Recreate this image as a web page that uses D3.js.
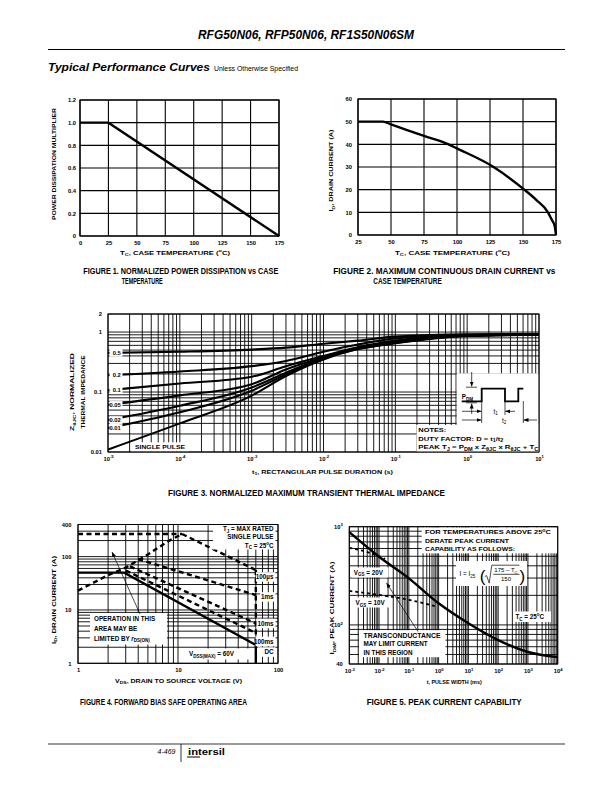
<!DOCTYPE html>
<html><head><meta charset="utf-8">
<script src="https://cdn.jsdelivr.net/npm/d3@7/dist/d3.min.js"></script>
<style>html,body{margin:0;padding:0;background:#fff;}svg{display:block;}</style>
</head><body>
<svg id="page" width="612" height="792" xmlns="http://www.w3.org/2000/svg"></svg>
<script>
// ================= DATA =================
// Figure 1
const fig1Temp = [0, 25, 175];
const fig1Mult = [1.0, 1.0, 0.0];
const fig1XTicks = [0, 25, 50, 75, 100, 125, 150, 175];
const fig1YTicks = [0, 0.2, 0.4, 0.6, 0.8, 1.0, 1.2];
// Figure 2
const fig2Temp = [25, 44, 50, 75, 93.6, 100, 127.7, 151, 160, 168.9, 172, 174, 175];
const fig2Current = [50, 50, 48.8, 43.7, 40, 38.2, 30, 20, 15.5, 10, 6.5, 4, 0];
const fig2XTicks = [25, 50, 75, 100, 125, 150, 175];
const fig2YTicks = [0, 10, 20, 30, 40, 50, 60];
// Figure 3
const fig3Time = [1e-5, 1e-4, 1e-3, 3e-3, 1e-2, 3e-2, 1e-1, 1, 10];
const fig3D05 = [0.45, 0.47, 0.51, 0.55, 0.64, 0.72, 0.84, 0.92, 0.93];
const fig3D02 = [0.19, 0.22, 0.27, 0.33, 0.47, 0.62, 0.78, 0.90, 0.92];
const fig3D01 = [0.107, 0.139, 0.18, 0.27, 0.40, 0.56, 0.72, 0.89, 0.92];
const fig3D005 = [0.061, 0.088, 0.135, 0.238, 0.38, 0.54, 0.69, 0.88, 0.91];
const fig3D002 = [0.034, 0.059, 0.119, 0.21, 0.37, 0.53, 0.67, 0.87, 0.91];
const fig3D001 = [0.025, 0.046, 0.105, 0.196, 0.36, 0.52, 0.66, 0.87, 0.90];
const fig3Single = [0.011, 0.030, 0.087, 0.185, 0.35, 0.52, 0.65, 0.86, 0.90];
const fig3DutyLabels = ["0.5", "0.2", "0.1", "0.05", "0.02", "0.01"];
const fig3XTickExp = [-5, -4, -3, -2, -1, 0, 1];
const fig3YTicks = [0.01, 0.1, 1, 2];
const fig3YTickLabels = ["0.01", "0.1", "1", "2"];
// Figure 4
const fig4RdsV = [1, 2, 3, 5, 8, 11];
const fig4RdsI = [23, 45, 62, 110, 195, 265];
const fig4IdmV = [1, 11];
const fig4IdmI = [265, 265];
const fig4Us100V = [11, 60];
const fig4Us100I = [265, 56];
const fig4Ms1V = [4, 60];
const fig4Ms1I = [90, 19];
const fig4Ms10V = [3.3, 60];
const fig4Ms10I = [66, 5.6];
const fig4Ms100V = [3.0, 60];
const fig4Ms100I = [55, 3.7];
const fig4DcV = [1, 2.9, 60, 60];
const fig4DcI = [50, 50, 2.2, 1];
const fig4VmaxV = [60, 60];
const fig4VmaxI = [56, 2.2];
const fig4XTicks = [1, 10, 100];
const fig4YTicks = [1, 10, 100, 400];
// Figure 5
const fig5Time = [1e-3, 1e-2, 1e-1, 1, 10, 100, 1e3, 1e4];
const fig5Current = [880, 495, 298, 166, 104, 70, 53, 47];
const fig5Vgs20Time = [1e-3, 5e-3, 1.6e-2];
const fig5Vgs20Current = [610, 540, 470];
const fig5Vgs10Time = [1e-3, 1e-2, 1e-1, 0.8];
const fig5Vgs10Current = [222, 202, 180, 155];
const fig5XTickExp = [-3, -2, -1, 0, 1, 2, 3, 4];
const fig5YTicks = [40, 100, 1000];

// ================= HELPERS =================
const FONT = '"Liberation Sans", Arial, Helvetica, sans-serif';
const svg = d3.select('#page');
svg.append('rect').attr('width', 612).attr('height', 792).attr('fill', '#fff');
const defs = svg.append('defs');
defs.append('marker').attr('id', 'arr').attr('viewBox', '0 0 10 10')
  .attr('refX', 10).attr('refY', 5).attr('markerWidth', 5).attr('markerHeight', 5)
  .attr('markerUnits', 'userSpaceOnUse').attr('orient', 'auto')
  .append('path').attr('d', 'M0,1 L10,5 L0,9 z').attr('fill', '#000');

function label(g, x, y, parts, o = {}) {
  const size = o.size || 6, anchor = o.anchor || 'start';
  const t = g.append('text').attr('x', x).attr('y', y)
    .attr('font-family', FONT).attr('font-size', size)
    .attr('font-weight', o.weight || 'bold').attr('font-style', o.style || 'normal')
    .attr('text-anchor', anchor).attr('fill', '#000');
  if (o.rotate) t.attr('transform', `rotate(${o.rotate},${x},${y})`);
  if (typeof parts === 'string') parts = [[parts]];
  let shift = 0;
  parts.forEach(p => {
    const [s, k, st] = p;
    const sp = t.append('tspan').text(s);
    const target = k === 'sub' ? size * 0.3 : k === 'sup' ? -size * 0.4 : 0;
    if (target !== shift) sp.attr('dy', target - shift);
    shift = target;
    if (k === 'sub' || k === 'sup') sp.attr('font-size', size * 0.72);
    if (st) sp.attr('font-style', st);
  });
  if (o.len) t.attr('textLength', o.len).attr('lengthAdjust', 'spacingAndGlyphs');
  return t;
}
function box(g, x, y, w, h) {
  g.append('rect').attr('x', x).attr('y', y).attr('width', w).attr('height', h).attr('fill', '#fff');
}
function styleAxis(a, size) {
  a.attr('font-family', FONT).attr('font-size', size).attr('font-weight', 'bold');
  a.select('.domain').remove();
  a.selectAll('.tick line').remove();
  a.selectAll('.tick text').attr('fill', '#000');
}
function powLabels(a, size) {
  a.selectAll('.tick text').each(function (d) {
    const t = d3.select(this);
    const e = Math.round(Math.log10(d));
    t.text(null);
    t.append('tspan').text('10');
    t.append('tspan').attr('dy', -size * 0.45).attr('font-size', size * 0.72).text(e);
  });
}
function grid(g, xs, ys, xv, yv, w) {
  const [xa, xb] = xs.domain(), [ya, yb] = ys.domain();
  g.append('g').selectAll('line').data(xv).join('line')
    .attr('x1', d => xs(d)).attr('x2', d => xs(d)).attr('y1', ys(ya)).attr('y2', ys(yb))
    .attr('stroke', '#000').attr('stroke-width', w);
  g.append('g').selectAll('line').data(yv).join('line')
    .attr('y1', d => ys(d)).attr('y2', d => ys(d)).attr('x1', xs(xa)).attr('x2', xs(xb))
    .attr('stroke', '#000').attr('stroke-width', w);
}
function frame(g, xs, ys, w) {
  const [x0, x1] = xs.range(), [y0, y1] = ys.range();
  g.append('rect').attr('x', x0).attr('y', y1).attr('width', x1 - x0).attr('height', y0 - y1)
    .attr('fill', 'none').attr('stroke', '#000').attr('stroke-width', w);
}
const zip = (a, b) => a.map((v, i) => [v, b[i]]);

// ================= HEADER =================
label(svg, 198, 38.5, 'RFG50N06, RFP50N06, RF1S50N06SM', { size: 12, style: 'italic', len: 216 });
svg.append('line').attr('x1', 48).attr('x2', 565).attr('y1', 49.5).attr('y2', 49.5).attr('stroke', '#000').attr('stroke-width', 1);
label(svg, 48, 71, 'Typical Performance Curves', { size: 11.5, style: 'italic', len: 162 });
label(svg, 214, 71, 'Unless Otherwise Specified', { size: 6.5, weight: 'normal', len: 84 });

// ================= FIGURE 1 =================
{
  const g = svg.append('g');
  const x = d3.scaleLinear().domain([0, 175]).range([80, 279]);
  const y = d3.scaleLinear().domain([0, 1.2]).range([236, 100]);
  grid(g, x, y, fig1XTicks, fig1YTicks, 1.1);
  frame(g, x, y, 1.2);
  g.append('path').datum(zip(fig1Temp, fig1Mult))
    .attr('d', d3.line().x(d => x(d[0])).y(d => y(d[1])))
    .attr('fill', 'none').attr('stroke', '#000').attr('stroke-width', 2.4);
  const ax = g.append('g').attr('transform', `translate(0,${y(0)})`)
    .call(d3.axisBottom(x).tickValues(fig1XTicks).tickSize(0).tickPadding(5).tickFormat(d3.format('d')));
  styleAxis(ax, 5.8);
  const ay = g.append('g').attr('transform', `translate(${x(0)},0)`)
    .call(d3.axisLeft(y).tickValues(fig1YTicks).tickSize(0).tickPadding(4).tickFormat(d => d === 0 ? '0' : d.toFixed(1)));
  styleAxis(ay, 5.8);
  label(g, 175, 254.5, [['T'], ['C', 'sub'], [', CASE TEMPERATURE ('], ['o', 'sup'], ['C)']], { size: 6, anchor: 'middle', len: 110 });
  label(g, 55.5, 164, 'POWER DISSIPATION MULTIPLIER', { size: 6, anchor: 'middle', rotate: -90, len: 112 });
  label(g, 83.3, 273.8, 'FIGURE 1.  NORMALIZED POWER DISSIPATION vs CASE', { size: 8.2, len: 195 });
  label(g, 121.7, 284.3, 'TEMPERATURE', { size: 8.2, len: 41 });
}

// ================= FIGURE 2 =================
{
  const g = svg.append('g');
  const x = d3.scaleLinear().domain([25, 175]).range([358, 556]);
  const y = d3.scaleLinear().domain([0, 60]).range([235, 99]);
  grid(g, x, y, fig2XTicks, fig2YTicks, 1.1);
  frame(g, x, y, 1.2);
  g.append('path').datum(zip(fig2Temp, fig2Current))
    .attr('d', d3.line().x(d => x(d[0])).y(d => y(d[1])).curve(d3.curveMonotoneX))
    .attr('fill', 'none').attr('stroke', '#000').attr('stroke-width', 2.4);
  const ax = g.append('g').attr('transform', `translate(0,${y(0)})`)
    .call(d3.axisBottom(x).tickValues(fig2XTicks).tickSize(0).tickPadding(5).tickFormat(d3.format('d')));
  styleAxis(ax, 5.8);
  const ay = g.append('g').attr('transform', `translate(${x(25)},0)`)
    .call(d3.axisLeft(y).tickValues(fig2YTicks).tickSize(0).tickPadding(6).tickFormat(d3.format('d')));
  styleAxis(ay, 5.8);
  label(g, 452.5, 254.5, [['T'], ['C', 'sub'], [', CASE TEMPERATURE ('], ['o', 'sup'], ['C)']], { size: 6, anchor: 'middle', len: 115 });
  label(g, 333, 170.5, [['I'], ['D', 'sub'], [', DRAIN CURRENT (A)']], { size: 6, anchor: 'middle', rotate: -90, len: 82 });
  label(g, 333.3, 273.8, 'FIGURE 2.  MAXIMUM CONTINUOUS DRAIN CURRENT vs', { size: 8.2, len: 222 });
  label(g, 373.3, 284.3, 'CASE TEMPERATURE', { size: 8.2, len: 68.4 });
}

// ================= FIGURE 3 =================
{
  const g = svg.append('g');
  const x = d3.scaleLog().domain([1e-5, 10]).range([108, 539]);
  const y = d3.scaleLog().domain([0.01, 2]).range([452, 314]);
  grid(g, x, y, x.ticks(), y.ticks(), 0.9);
  const line = d3.line().x(d => x(d[0])).y(d => y(d[1])).curve(d3.curveMonotoneX);
  const series = [fig3D05, fig3D02, fig3D01, fig3D005, fig3D002, fig3D001, fig3Single];
  g.append('g').selectAll('path').data(series).join('path')
    .attr('d', s => line(zip(fig3Time, s)))
    .attr('fill', 'none').attr('stroke', '#000').attr('stroke-width', 2.1);
  fig3DutyLabels.forEach((lab, i) => {
    const yy = y(series[i][0]);
    box(g, 109.5, yy - 3.8, 13, 7.6);
    label(g, 120.8, yy + 2.1, lab, { size: 5.8, anchor: 'end' });
  });
  box(g, 131.7, 442.3, 56.6, 9.2);
  label(g, 135, 449.2, 'SINGLE PULSE', { size: 6.2, len: 50 });
  // pulse illustration
  box(g, 456.7, 373.3, 82, 52);
  const wave = [[461.7, 401.3], [481.7, 401.3], [481.7, 388.7], [505, 388.7], [505, 401.3], [518.3, 401.3], [518.3, 388.7], [523.3, 388.7]];
  g.append('path').attr('d', d3.line()(wave)).attr('fill', 'none').attr('stroke', '#000').attr('stroke-width', 1.8);
  const thin = (x1, y1, x2, y2, m) => {
    const l = g.append('line').attr('x1', x1).attr('y1', y1).attr('x2', x2).attr('y2', y2).attr('stroke', '#000').attr('stroke-width', 0.7);
    if (m) l.attr('marker-end', 'url(#arr)');
  };
  thin(471.7, 372, 471.7, 386.5, true);
  thin(466, 387.2, 477, 387.2);
  thin(471.7, 414, 471.7, 403.5, true);
  thin(466, 402.8, 477, 402.8);
  thin(462, 411.3, 481.5, 411.3, true);
  thin(515, 411.3, 505.2, 411.3, true);
  thin(462, 420, 481.5, 420, true);
  thin(537, 420, 523.5, 420, true);
  thin(481.7, 401, 481.7, 423);
  thin(505, 401, 505, 415);
  thin(523.3, 401, 523.3, 423);
  label(g, 461.7, 399.2, [['P'], ['DM', 'sub']], { size: 6.3 });
  label(g, 493.5, 413.5, [['t'], ['1', 'sub']], { size: 6.3, weight: 'normal' });
  label(g, 502, 422.5, [['t'], ['2', 'sub']], { size: 6.3, weight: 'normal' });
  // notes
  box(g, 416.5, 425, 122.5, 27);
  label(g, 418.3, 432, 'NOTES:', { size: 6.2, len: 28 });
  label(g, 418.3, 440.5, [['DUTY FACTOR: D = t'], ['1', 'sub'], ['/t'], ['2', 'sub']], { size: 6.2, len: 85 });
  label(g, 418.3, 449.2, [['PEAK T'], ['J', 'sub'], [' = P'], ['DM', 'sub'], [' x Z'], ['θJC', 'sub'], [' x R'], ['θJC', 'sub'], [' + T'], ['C', 'sub']], { size: 6.2, len: 120 });
  frame(g, x, y, 1);
  const ax = g.append('g').attr('transform', `translate(0,${y(0.01)})`)
    .call(d3.axisBottom(x).tickValues(fig3XTickExp.map(e => Math.pow(10, e))).tickSize(0).tickPadding(4.5));
  styleAxis(ax, 5.8);
  powLabels(ax, 5.8);
  const ay = g.append('g').attr('transform', `translate(${x(1e-5)},0)`)
    .call(d3.axisLeft(y).tickValues(fig3YTicks).tickSize(0).tickPadding(6).tickFormat((d, i) => fig3YTickLabels[i]));
  styleAxis(ay, 5.8);
  label(g, 74, 392, [['Z'], ['θJC', 'sub'], [', NORMALIZED']], { size: 6, anchor: 'middle', rotate: -90, len: 78 });
  label(g, 84.5, 392, 'THERMAL IMPEDANCE', { size: 6, anchor: 'middle', rotate: -90, len: 73 });
  label(g, 252, 473.5, [['t'], ['1', 'sub'], [', RECTANGULAR PULSE DURATION (s)']], { size: 6, len: 141 });
  label(g, 168, 496, 'FIGURE 3.  NORMALIZED MAXIMUM TRANSIENT THERMAL IMPEDANCE', { size: 8.2, len: 277 });
}

// ================= FIGURE 4 =================
{
  const g = svg.append('g');
  const x = d3.scaleLog().domain([1, 100]).range([78, 278]);
  const y = d3.scaleLog().domain([1, 400]).range([663.3, 524.5]);
  grid(g, x, y, x.ticks(), y.ticks(), 0.9);
  const line = d3.line().x(d => x(d[0])).y(d => y(d[1]));
  const dashed = (vv, ii) => g.append('path').datum(zip(vv, ii)).attr('d', line)
    .attr('fill', 'none').attr('stroke', '#000').attr('stroke-width', 2.4).attr('stroke-dasharray', '5,3.5');
  dashed(fig4IdmV, fig4IdmI);
  dashed(fig4RdsV, fig4RdsI);
  dashed(fig4Us100V, fig4Us100I);
  dashed(fig4Ms1V, fig4Ms1I);
  dashed(fig4Ms10V, fig4Ms10I);
  dashed(fig4Ms100V, fig4Ms100I);
  dashed(fig4VmaxV, fig4VmaxI);
  g.append('path').datum(zip(fig4DcV, fig4DcI)).attr('d', line)
    .attr('fill', 'none').attr('stroke', '#000').attr('stroke-width', 2.4);
  box(g, 213, 525, 62.5, 24.5);
  label(g, 273.5, 530.8, [['T'], ['J', 'sub'], [' = MAX RATED']], { size: 6.3, anchor: 'end' });
  label(g, 273.5, 539.2, 'SINGLE PULSE', { size: 6.3, anchor: 'end' });
  label(g, 273.5, 547.6, [['T'], ['C', 'sub'], [' = 25'], ['o', 'sup'], ['C']], { size: 6.3, anchor: 'end' });
  const tag = (txt, by, bx) => { box(g, bx, by - 7, 275.5 - bx, 9.5); label(g, 273.5, by, txt, { size: 6.3, anchor: 'end' }); };
  tag('100µs', 579.2, 256);
  tag('1ms', 599.2, 260);
  tag('10ms', 625.7, 256.5);
  tag('100ms', 643.7, 255.5);
  tag('DC', 654.3, 258);
  box(g, 186.5, 648.5, 64, 11);
  label(g, 189, 656.3, [['V'], ['DSS(MAX)', 'sub'], [' = 60V']], { size: 6.3 });
  box(g, 90, 613, 77, 31.5);
  label(g, 94, 621.3, 'OPERATION IN THIS', { size: 6.3 });
  label(g, 94, 630.6, 'AREA MAY BE', { size: 6.3 });
  label(g, 94, 640.5, [['LIMITED BY '], ['r', null, 'italic'], ['DS(ON)', 'sub']], { size: 6.3 });
  g.append('line').attr('x1', 140).attr('y1', 614).attr('x2', 112).attr('y2', 552)
    .attr('stroke', '#000').attr('stroke-width', 0.7).attr('marker-end', 'url(#arr)');
  frame(g, x, y, 1);
  const ax = g.append('g').attr('transform', `translate(0,${y(1)})`)
    .call(d3.axisBottom(x).tickValues(fig4XTicks).tickSize(0).tickPadding(4.5).tickFormat(d3.format('d')));
  styleAxis(ax, 5.8);
  const ay = g.append('g').attr('transform', `translate(${x(1)},0)`)
    .call(d3.axisLeft(y).tickValues(fig4YTicks).tickSize(0).tickPadding(6.5).tickFormat(d3.format('d')));
  styleAxis(ay, 5.8);
  label(g, 115, 682.5, [['V'], ['DS', 'sub'], [', DRAIN TO SOURCE VOLTAGE (V)']], { size: 6, len: 127 });
  label(g, 55.5, 600, [['I'], ['D', 'sub'], [', DRAIN CURRENT (A)']], { size: 6, anchor: 'middle', rotate: -90, len: 88 });
  label(g, 80, 704.5, 'FIGURE 4.  FORWARD BIAS SAFE OPERATING AREA', { size: 8.2, len: 167 });
}

// ================= FIGURE 5 =================
{
  const g = svg.append('g');
  const x = d3.scaleLog().domain([1e-3, 1e4]).range([349.3, 557.7]);
  const y = d3.scaleLog().domain([40, 1000]).range([664, 526.7]);
  grid(g, x, y, x.ticks(), y.ticks(), 0.9);
  const line = d3.line().x(d => x(d[0])).y(d => y(d[1])).curve(d3.curveMonotoneX);
  g.append('path').datum(zip(fig5Vgs20Time, fig5Vgs20Current)).attr('d', line)
    .attr('fill', 'none').attr('stroke', '#000').attr('stroke-width', 1.8).attr('stroke-dasharray', '3,3');
  g.append('path').datum(zip(fig5Vgs10Time, fig5Vgs10Current)).attr('d', line)
    .attr('fill', 'none').attr('stroke', '#000').attr('stroke-width', 1.8).attr('stroke-dasharray', '3,3');
  g.append('path').datum(zip(fig5Time, fig5Current)).attr('d', line)
    .attr('fill', 'none').attr('stroke', '#000').attr('stroke-width', 2.4);
  box(g, 421.7, 527.4, 135.5, 26);
  label(g, 425, 534, [['FOR TEMPERATURES ABOVE 25'], ['o', 'sup'], ['C']], { size: 6.2, len: 126 });
  label(g, 425, 542.9, 'DERATE PEAK CURRENT', { size: 6.2, len: 84 });
  label(g, 425, 551.2, 'CAPABILITY AS FOLLOWS:', { size: 6.2, len: 90 });
  box(g, 456, 561, 71, 25);
  label(g, 459.5, 575.8, [['I = I'], ['25', 'sub']], { size: 6.3, weight: 'normal' });
  label(g, 479.8, 581.5, '(', { size: 17, weight: 'normal' });
  label(g, 519.5, 581.5, ')', { size: 17, weight: 'normal' });
  g.append('path').attr('d', 'M484.8,576.5 L486.6,575.6 L489.2,583 L491.8,565.2 L519.5,565.2')
    .attr('fill', 'none').attr('stroke', '#000').attr('stroke-width', 0.7);
  label(g, 506, 571.8, [['175 – T'], ['C', 'sub']], { size: 6, anchor: 'middle', weight: 'normal' });
  g.append('line').attr('x1', 493.2).attr('x2', 519.5).attr('y1', 574.3).attr('y2', 574.3).attr('stroke', '#000').attr('stroke-width', 0.7);
  label(g, 506, 581.3, '150', { size: 6, anchor: 'middle', weight: 'normal' });
  box(g, 513, 611.5, 38, 10.5);
  label(g, 515.5, 619, [['T'], ['C', 'sub'], [' = 25'], ['o', 'sup'], ['C']], { size: 6.3 });
  box(g, 351.5, 567.5, 37, 10);
  label(g, 353.8, 574.5, [['V'], ['GS', 'sub'], [' = 20V']], { size: 6.3 });
  box(g, 353, 597.5, 38, 10);
  label(g, 355.5, 604.8, [['V'], ['GS', 'sub'], [' = 10V']], { size: 6.3 });
  box(g, 359, 630.2, 86.5, 27);
  label(g, 363.5, 638, 'TRANSCONDUCTANCE', { size: 6.3, len: 77 });
  label(g, 363.5, 646.4, 'MAY LIMIT CURRENT', { size: 6.3 });
  label(g, 363.5, 654.8, 'IN THIS REGION', { size: 6.3 });
  g.append('line').attr('x1', 418).attr('y1', 631.5).attr('x2', 386.5).attr('y2', 583)
    .attr('stroke', '#000').attr('stroke-width', 0.7).attr('marker-end', 'url(#arr)');
  frame(g, x, y, 1);
  const ax = g.append('g').attr('transform', `translate(0,${y(40)})`)
    .call(d3.axisBottom(x).tickValues(fig5XTickExp.map(e => Math.pow(10, e))).tickSize(0).tickPadding(5));
  styleAxis(ax, 5.8);
  powLabels(ax, 5.8);
  const ay = g.append('g').attr('transform', `translate(${x(1e-3)},0)`)
    .call(d3.axisLeft(y).tickValues(fig5YTicks).tickSize(0).tickPadding(6.5).tickFormat(d3.format('d')));
  styleAxis(ay, 5.8);
  ay.selectAll('.tick text').filter(d => d >= 100).each(function (d) {
    const t = d3.select(this);
    t.text(null);
    t.append('tspan').text('10');
    t.append('tspan').attr('dy', -2.6).attr('font-size', 4.2).text(Math.round(Math.log10(d)));
  });
  label(g, 426.7, 684, 't, PULSE WIDTH (ms)', { size: 6, len: 55 });
  label(g, 334, 608, [['I'], ['DM', 'sub'], [', PEAK CURRENT (A)']], { size: 6, anchor: 'middle', rotate: -90, len: 93 });
  label(g, 366.7, 705, 'FIGURE 5.  PEAK CURRENT CAPABILITY', { size: 8.2, len: 155 });
}

// ================= FOOTER =================
svg.append('line').attr('x1', 48).attr('x2', 565).attr('y1', 744).attr('y2', 744).attr('stroke', '#000').attr('stroke-width', 0.8);
svg.append('line').attr('x1', 181).attr('x2', 181).attr('y1', 744).attr('y2', 762).attr('stroke', '#000').attr('stroke-width', 0.8);
label(svg, 175.5, 753.5, '4-469', { size: 7, weight: 'normal', style: 'italic', anchor: 'end' });
label(svg, 188, 754.5, 'intersil', { size: 9, len: 37 });
svg.append('line').attr('x1', 187).attr('x2', 200).attr('y1', 757).attr('y2', 757).attr('stroke', '#000').attr('stroke-width', 1);
</script>
</body></html>
